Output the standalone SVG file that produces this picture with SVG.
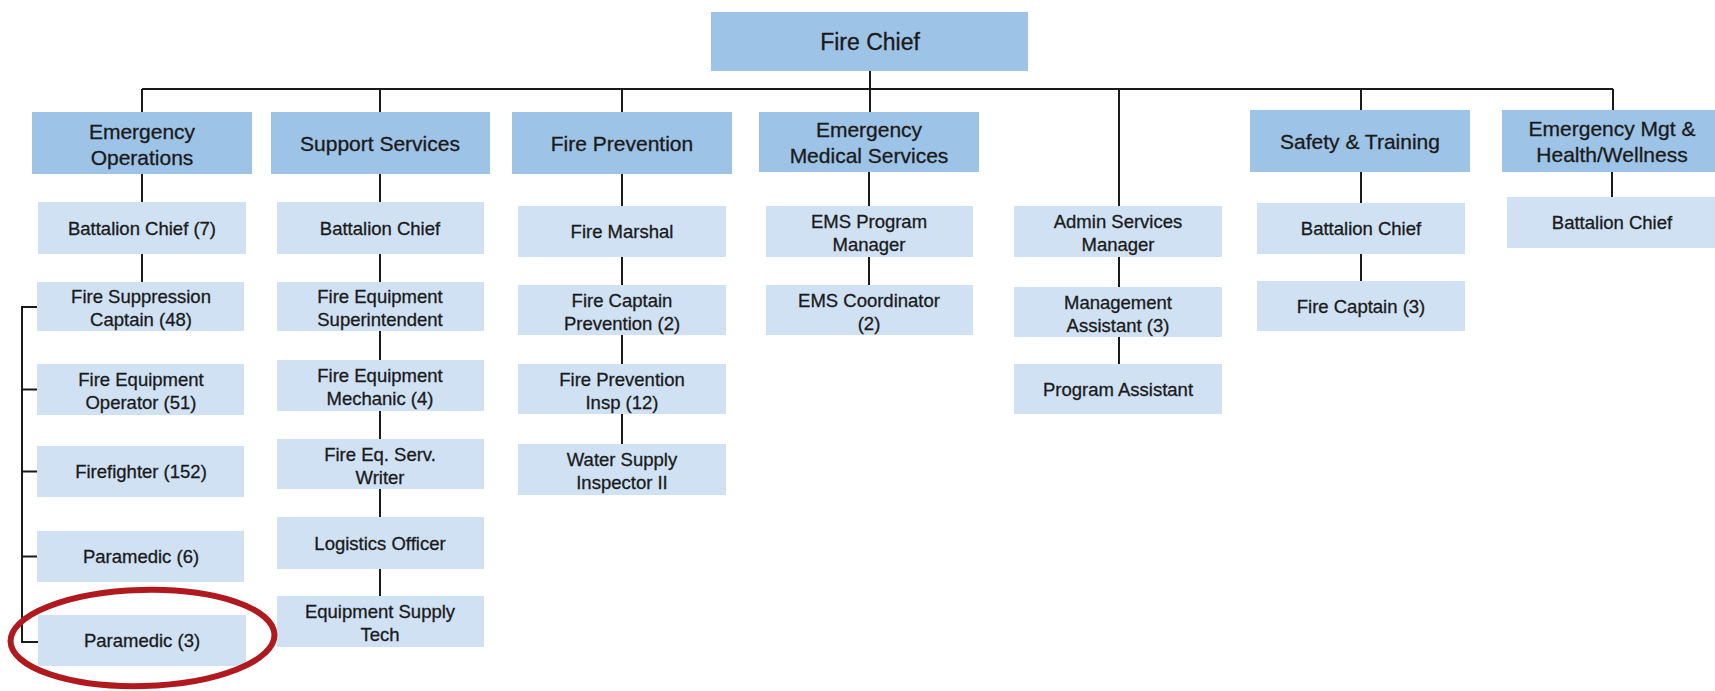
<svg xmlns="http://www.w3.org/2000/svg" width="1715" height="691" viewBox="0 0 1715 691">
  <style>
    .hd { fill: #9dc3e6; }
    .ch { fill: #cfe1f3; }
    text { font-family: "Liberation Sans", Arial, sans-serif; fill: #1a1a1a; stroke: #1a1a1a; stroke-width: 0.3; text-anchor: middle; }
    .th { font-size: 21px; }
    .tc { font-size: 18.5px; }
    .tf { font-size: 23px; }
    .ln { stroke: #1a1a1a; stroke-width: 2; fill: none; }
    .mark { stroke: #b01a1e; stroke-width: 6; fill: none; }
  </style>

  <rect width="1715" height="691" fill="#ffffff"/>

  <!-- connectors -->
  <g id="connectors" class="ln">
    <path d="M870 71V89"/>
    <path d="M142 89H1613"/>
    <path d="M142 89V112M380 89V112M622 89V112M870 89V112M1119 89V206M1361 89V110M1613 89V110"/>
    <!-- Emergency Operations -->
    <path d="M142 174V202M142 254V282"/>
    <path d="M37 307H22V642H38M22 389.5H37M22 471.5H37M22 556.5H37"/>
    <!-- Support Services -->
    <path d="M380 174V202M380 254V282M380 331V360M380 411V439M380 489V517M380 569V596"/>
    <!-- Fire Prevention -->
    <path d="M622 174V206M622 257V285M622 335V364M622 414V444"/>
    <!-- EMS -->
    <path d="M869 172V206M869 257V285"/>
    <!-- Admin -->
    <path d="M1119 257V287M1119 337V364"/>
    <!-- Safety & Training -->
    <path d="M1361 172V203M1361 254V281"/>
    <!-- Emergency Mgt -->
    <path d="M1612 172V197"/>
  </g>

  <!-- top -->
  <g id="fire-chief">
    <rect class="hd" x="711" y="12" width="317" height="59"/>
    <text class="tf" x="870" y="49.5">Fire Chief</text>
  </g>

  <!-- division heads -->
  <g id="emergency-operations">
    <rect class="hd" x="32" y="112" width="220" height="62"/>
    <text class="th" x="142" y="138.5">Emergency</text>
    <text class="th" x="142" y="164.5">Operations</text>
  </g>
  <g id="support-services">
    <rect class="hd" x="271" y="112" width="219" height="62"/>
    <text class="th" x="380" y="150.5">Support Services</text>
  </g>
  <g id="fire-prevention">
    <rect class="hd" x="512" y="112" width="220" height="62"/>
    <text class="th" x="622" y="150.5">Fire Prevention</text>
  </g>
  <g id="ems">
    <rect class="hd" x="759" y="112" width="220" height="60"/>
    <text class="th" x="869" y="137">Emergency</text>
    <text class="th" x="869" y="163">Medical Services</text>
  </g>
  <g id="safety-training">
    <rect class="hd" x="1250" y="110" width="220" height="62"/>
    <text class="th" x="1360" y="148.5">Safety &amp; Training</text>
  </g>
  <g id="emergency-mgt">
    <rect class="hd" x="1502" y="110" width="220" height="62"/>
    <text class="th" x="1612" y="135.5">Emergency Mgt &amp;</text>
    <text class="th" x="1612" y="161.5">Health/Wellness</text>
  </g>

  <!-- Emergency Operations staff -->
  <g id="eo-battalion-chief">
    <rect class="ch" x="38" y="202" width="208" height="52"/>
    <text class="tc" x="142" y="234.5">Battalion Chief (7)</text>
  </g>
  <g id="eo-suppression-captain">
    <rect class="ch" x="37" y="282" width="207" height="49"/>
    <text class="tc" x="141" y="303">Fire Suppression</text>
    <text class="tc" x="141" y="326">Captain (48)</text>
  </g>
  <g id="eo-equipment-operator">
    <rect class="ch" x="37" y="364" width="207" height="51"/>
    <text class="tc" x="141" y="386">Fire Equipment</text>
    <text class="tc" x="141" y="409">Operator (51)</text>
  </g>
  <g id="eo-firefighter">
    <rect class="ch" x="37" y="446" width="207" height="51"/>
    <text class="tc" x="141" y="478">Firefighter (152)</text>
  </g>
  <g id="eo-paramedic-6">
    <rect class="ch" x="37" y="531" width="207" height="51"/>
    <text class="tc" x="141" y="563">Paramedic (6)</text>
  </g>
  <g id="eo-paramedic-3">
    <rect class="ch" x="38" y="615" width="208" height="51"/>
    <text class="tc" x="142" y="647">Paramedic (3)</text>
  </g>

  <!-- Support Services staff -->
  <g id="ss-battalion-chief">
    <rect class="ch" x="277" y="202" width="207" height="52"/>
    <text class="tc" x="380" y="234.5">Battalion Chief</text>
  </g>
  <g id="ss-superintendent">
    <rect class="ch" x="277" y="282" width="207" height="49"/>
    <text class="tc" x="380" y="303">Fire Equipment</text>
    <text class="tc" x="380" y="326">Superintendent</text>
  </g>
  <g id="ss-mechanic">
    <rect class="ch" x="277" y="360" width="207" height="51"/>
    <text class="tc" x="380" y="382">Fire Equipment</text>
    <text class="tc" x="380" y="405">Mechanic (4)</text>
  </g>
  <g id="ss-service-writer">
    <rect class="ch" x="277" y="439" width="207" height="50"/>
    <text class="tc" x="380" y="460.5">Fire Eq. Serv.</text>
    <text class="tc" x="380" y="483.5">Writer</text>
  </g>
  <g id="ss-logistics">
    <rect class="ch" x="277" y="517" width="207" height="52"/>
    <text class="tc" x="380" y="549.5">Logistics Officer</text>
  </g>
  <g id="ss-supply-tech">
    <rect class="ch" x="277" y="596" width="207" height="51"/>
    <text class="tc" x="380" y="618">Equipment Supply</text>
    <text class="tc" x="380" y="641">Tech</text>
  </g>

  <!-- Fire Prevention staff -->
  <g id="fp-fire-marshal">
    <rect class="ch" x="518" y="206" width="208" height="51"/>
    <text class="tc" x="622" y="238">Fire Marshal</text>
  </g>
  <g id="fp-captain">
    <rect class="ch" x="518" y="285" width="208" height="50"/>
    <text class="tc" x="622" y="306.5">Fire Captain</text>
    <text class="tc" x="622" y="329.5">Prevention (2)</text>
  </g>
  <g id="fp-inspector">
    <rect class="ch" x="518" y="364" width="208" height="50"/>
    <text class="tc" x="622" y="385.5">Fire Prevention</text>
    <text class="tc" x="622" y="408.5">Insp (12)</text>
  </g>
  <g id="fp-water-supply">
    <rect class="ch" x="518" y="444" width="208" height="51"/>
    <text class="tc" x="622" y="466">Water Supply</text>
    <text class="tc" x="622" y="489">Inspector II</text>
  </g>

  <!-- EMS staff -->
  <g id="ems-program-manager">
    <rect class="ch" x="766" y="206" width="207" height="51"/>
    <text class="tc" x="869" y="228">EMS Program</text>
    <text class="tc" x="869" y="251">Manager</text>
  </g>
  <g id="ems-coordinator">
    <rect class="ch" x="766" y="285" width="207" height="50"/>
    <text class="tc" x="869" y="306.5">EMS Coordinator</text>
    <text class="tc" x="869" y="329.5">(2)</text>
  </g>

  <!-- Admin staff -->
  <g id="admin-services-manager">
    <rect class="ch" x="1014" y="206" width="208" height="51"/>
    <text class="tc" x="1118" y="228">Admin Services</text>
    <text class="tc" x="1118" y="251">Manager</text>
  </g>
  <g id="admin-management-assistant">
    <rect class="ch" x="1014" y="287" width="208" height="50"/>
    <text class="tc" x="1118" y="308.5">Management</text>
    <text class="tc" x="1118" y="331.5">Assistant (3)</text>
  </g>
  <g id="admin-program-assistant">
    <rect class="ch" x="1014" y="364" width="208" height="50"/>
    <text class="tc" x="1118" y="395.5">Program Assistant</text>
  </g>

  <!-- Safety & Training staff -->
  <g id="st-battalion-chief">
    <rect class="ch" x="1257" y="203" width="208" height="51"/>
    <text class="tc" x="1361" y="235">Battalion Chief</text>
  </g>
  <g id="st-fire-captain">
    <rect class="ch" x="1257" y="281" width="208" height="50"/>
    <text class="tc" x="1361" y="312.5">Fire Captain (3)</text>
  </g>

  <!-- Emergency Mgt staff -->
  <g id="em-battalion-chief">
    <rect class="ch" x="1507" y="197" width="210" height="51"/>
    <text class="tc" x="1612" y="229">Battalion Chief</text>
  </g>

  <!-- highlight ring -->
  <ellipse class="mark" cx="142.5" cy="638" rx="132" ry="48" transform="rotate(-1.5 142.5 638)"/>
</svg>
